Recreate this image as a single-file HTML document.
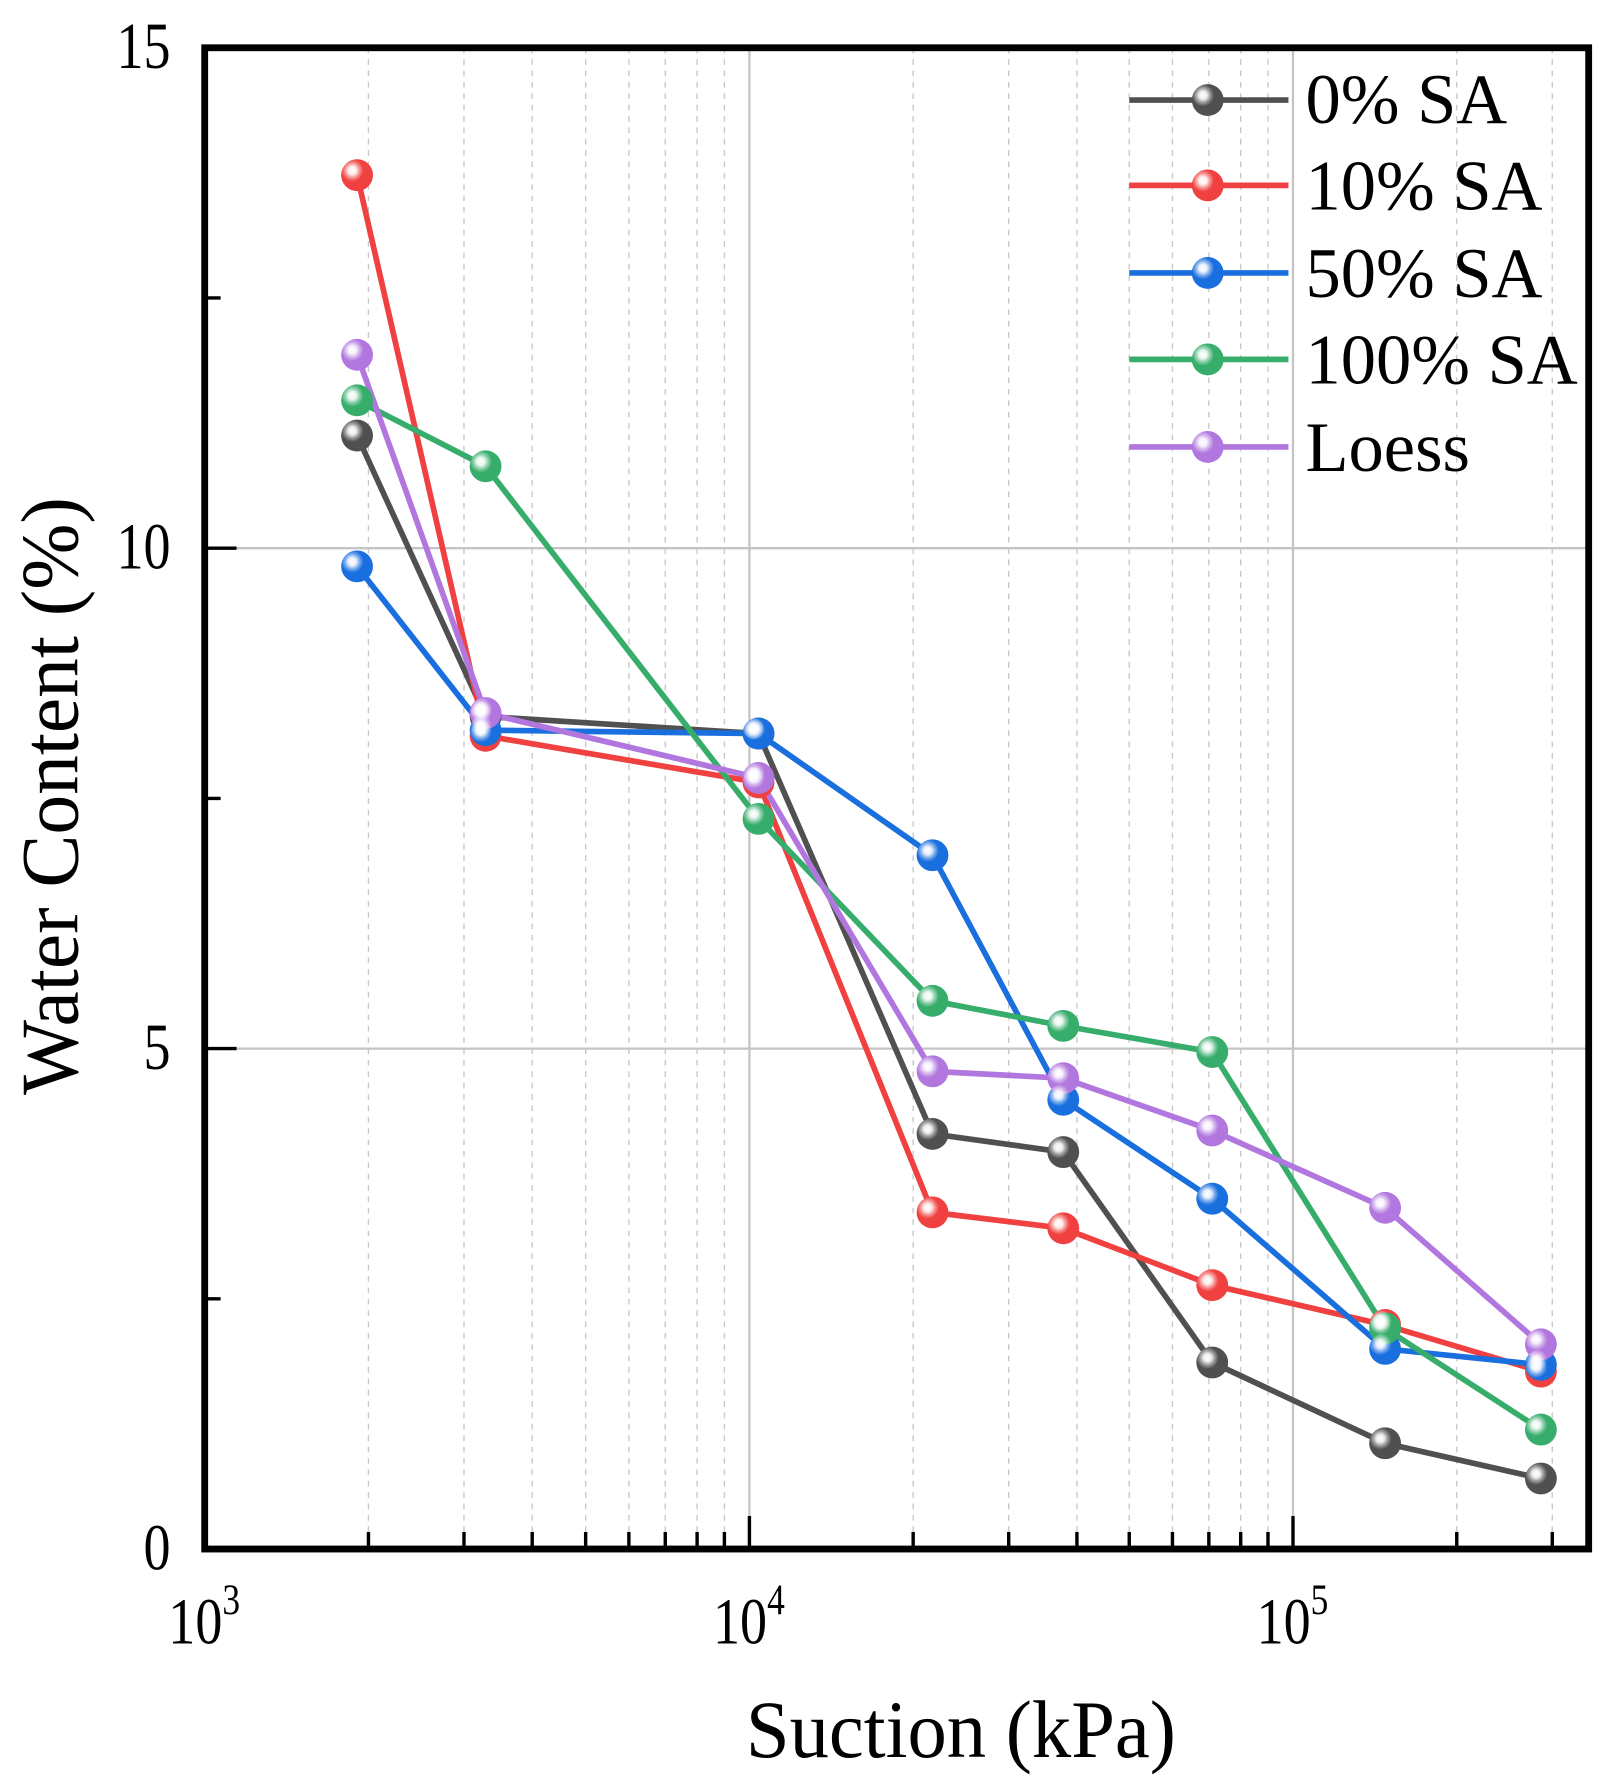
<!DOCTYPE html>
<html><head><meta charset="utf-8"><style>html,body{margin:0;padding:0;background:#fff}svg{display:block}</style></head>
<body>
<svg width="1608" height="1789" viewBox="0 0 1414 1573" preserveAspectRatio="none" xmlns="http://www.w3.org/2000/svg" font-family="Liberation Serif, serif">
<defs>
<radialGradient id="hl" cx="0.35" cy="0.35" r="0.5">
<stop offset="0" stop-color="#fff" stop-opacity="1"/>
<stop offset="0.25" stop-color="#fff" stop-opacity="0.9"/>
<stop offset="0.45" stop-color="#fff" stop-opacity="0.45"/>
<stop offset="0.7" stop-color="#fff" stop-opacity="0"/>
</radialGradient>
</defs>
<g stroke="#c8c8c8" stroke-width="1.2" stroke-dasharray="5,5">
<line x1="324" y1="42" x2="324" y2="1362"/><line x1="408" y1="42" x2="408" y2="1362"/><line x1="468" y1="42" x2="468" y2="1362"/><line x1="515" y1="42" x2="515" y2="1362"/><line x1="553" y1="42" x2="553" y2="1362"/><line x1="585" y1="42" x2="585" y2="1362"/><line x1="613" y1="42" x2="613" y2="1362"/><line x1="637" y1="42" x2="637" y2="1362"/>
<line x1="803" y1="42" x2="803" y2="1362"/><line x1="887" y1="42" x2="887" y2="1362"/><line x1="947" y1="42" x2="947" y2="1362"/><line x1="993" y1="42" x2="993" y2="1362"/><line x1="1031" y1="42" x2="1031" y2="1362"/><line x1="1063" y1="42" x2="1063" y2="1362"/><line x1="1091" y1="42" x2="1091" y2="1362"/><line x1="1115" y1="42" x2="1115" y2="1362"/>
<line x1="1281" y1="42" x2="1281" y2="1362"/><line x1="1365" y1="42" x2="1365" y2="1362"/>
</g>
<g stroke="#c4c4c4" stroke-width="2">
<line x1="659" y1="42" x2="659" y2="1362"/><line x1="1137" y1="42" x2="1137" y2="1362"/>
<line x1="180" y1="482" x2="1397" y2="482"/><line x1="180" y1="922" x2="1397" y2="922"/>
</g>
<g stroke="#000" stroke-width="3">
<line x1="324" y1="1362" x2="324" y2="1347"/><line x1="408" y1="1362" x2="408" y2="1347"/><line x1="468" y1="1362" x2="468" y2="1347"/><line x1="515" y1="1362" x2="515" y2="1347"/><line x1="553" y1="1362" x2="553" y2="1347"/><line x1="585" y1="1362" x2="585" y2="1347"/><line x1="613" y1="1362" x2="613" y2="1347"/><line x1="637" y1="1362" x2="637" y2="1347"/>
<line x1="803" y1="1362" x2="803" y2="1347"/><line x1="887" y1="1362" x2="887" y2="1347"/><line x1="947" y1="1362" x2="947" y2="1347"/><line x1="993" y1="1362" x2="993" y2="1347"/><line x1="1031" y1="1362" x2="1031" y2="1347"/><line x1="1063" y1="1362" x2="1063" y2="1347"/><line x1="1091" y1="1362" x2="1091" y2="1347"/><line x1="1115" y1="1362" x2="1115" y2="1347"/>
<line x1="1281" y1="1362" x2="1281" y2="1347"/><line x1="1365" y1="1362" x2="1365" y2="1347"/>
<line x1="659" y1="1362" x2="659" y2="1333"/><line x1="1137" y1="1362" x2="1137" y2="1333"/>
<line x1="180" y1="262" x2="194" y2="262"/><line x1="180" y1="702" x2="194" y2="702"/><line x1="180" y1="1142" x2="194" y2="1142"/>
<line x1="180" y1="482" x2="208" y2="482"/><line x1="180" y1="922" x2="208" y2="922"/>
</g>
<rect x="180" y="42" width="1217" height="1320" fill="none" stroke="#000" stroke-width="6"/>
<g fill="none" stroke-width="5" stroke-linejoin="round">
<polyline stroke="#505050" points="314,383 427,630 667,645 820,997 935,1013 1066,1198 1218,1269 1355,1300"/>
<polyline stroke="#f04040" points="314,154 427,647 667,688 820,1066 935,1080 1066,1130 1218,1165 1355,1206"/>
<polyline stroke="#1a6fdf" points="314,498 427,642 667,645 820,752 935,967 1066,1054 1218,1186 1355,1200"/>
<polyline stroke="#37ad6b" points="314,352 427,410 667,720 820,880 935,902 1066,925 1218,1168 1355,1257"/>
<polyline stroke="#b177de" points="314,312 427,627 667,684 820,942 935,948 1066,994 1218,1062 1355,1182"/>
</g>
<g>
<g fill="#505050"><circle cx="314" cy="383" r="14"/><circle cx="427" cy="630" r="14"/><circle cx="667" cy="645" r="14"/><circle cx="820" cy="997" r="14"/><circle cx="935" cy="1013" r="14"/><circle cx="1066" cy="1198" r="14"/><circle cx="1218" cy="1269" r="14"/><circle cx="1355" cy="1300" r="14"/></g>
<g fill="#f04040"><circle cx="314" cy="154" r="14"/><circle cx="427" cy="647" r="14"/><circle cx="667" cy="688" r="14"/><circle cx="820" cy="1066" r="14"/><circle cx="935" cy="1080" r="14"/><circle cx="1066" cy="1130" r="14"/><circle cx="1218" cy="1165" r="14"/><circle cx="1355" cy="1206" r="14"/></g>
<g fill="#1a6fdf"><circle cx="314" cy="498" r="14"/><circle cx="427" cy="642" r="14"/><circle cx="667" cy="645" r="14"/><circle cx="820" cy="752" r="14"/><circle cx="935" cy="967" r="14"/><circle cx="1066" cy="1054" r="14"/><circle cx="1218" cy="1186" r="14"/><circle cx="1355" cy="1200" r="14"/></g>
<g fill="#37ad6b"><circle cx="314" cy="352" r="14"/><circle cx="427" cy="410" r="14"/><circle cx="667" cy="720" r="14"/><circle cx="820" cy="880" r="14"/><circle cx="935" cy="902" r="14"/><circle cx="1066" cy="925" r="14"/><circle cx="1218" cy="1168" r="14"/><circle cx="1355" cy="1257" r="14"/></g>
<g fill="#b177de"><circle cx="314" cy="312" r="14"/><circle cx="427" cy="627" r="14"/><circle cx="667" cy="684" r="14"/><circle cx="820" cy="942" r="14"/><circle cx="935" cy="948" r="14"/><circle cx="1066" cy="994" r="14"/><circle cx="1218" cy="1062" r="14"/><circle cx="1355" cy="1182" r="14"/></g>
</g>
<g fill="url(#hl)">
<circle cx="314" cy="383" r="14"/><circle cx="427" cy="630" r="14"/><circle cx="667" cy="645" r="14"/><circle cx="820" cy="997" r="14"/><circle cx="935" cy="1013" r="14"/><circle cx="1066" cy="1198" r="14"/><circle cx="1218" cy="1269" r="14"/><circle cx="1355" cy="1300" r="14"/>
<circle cx="314" cy="154" r="14"/><circle cx="427" cy="647" r="14"/><circle cx="667" cy="688" r="14"/><circle cx="820" cy="1066" r="14"/><circle cx="935" cy="1080" r="14"/><circle cx="1066" cy="1130" r="14"/><circle cx="1218" cy="1165" r="14"/><circle cx="1355" cy="1206" r="14"/>
<circle cx="314" cy="498" r="14"/><circle cx="427" cy="642" r="14"/><circle cx="667" cy="645" r="14"/><circle cx="820" cy="752" r="14"/><circle cx="935" cy="967" r="14"/><circle cx="1066" cy="1054" r="14"/><circle cx="1218" cy="1186" r="14"/><circle cx="1355" cy="1200" r="14"/>
<circle cx="314" cy="352" r="14"/><circle cx="427" cy="410" r="14"/><circle cx="667" cy="720" r="14"/><circle cx="820" cy="880" r="14"/><circle cx="935" cy="902" r="14"/><circle cx="1066" cy="925" r="14"/><circle cx="1218" cy="1168" r="14"/><circle cx="1355" cy="1257" r="14"/>
<circle cx="314" cy="312" r="14"/><circle cx="427" cy="627" r="14"/><circle cx="667" cy="684" r="14"/><circle cx="820" cy="942" r="14"/><circle cx="935" cy="948" r="14"/><circle cx="1066" cy="994" r="14"/><circle cx="1218" cy="1062" r="14"/><circle cx="1355" cy="1182" r="14"/>
</g>
<g stroke-width="5">
<line x1="993" y1="88" x2="1133" y2="88" stroke="#505050"/>
<line x1="993" y1="163" x2="1133" y2="163" stroke="#f04040"/>
<line x1="993" y1="240" x2="1133" y2="240" stroke="#1a6fdf"/>
<line x1="993" y1="316" x2="1133" y2="316" stroke="#37ad6b"/>
<line x1="993" y1="393" x2="1133" y2="393" stroke="#b177de"/>
</g>
<circle cx="1062" cy="88" r="14" fill="#505050"/><circle cx="1062" cy="88" r="14" fill="url(#hl)"/>
<circle cx="1062" cy="163" r="14" fill="#f04040"/><circle cx="1062" cy="163" r="14" fill="url(#hl)"/>
<circle cx="1062" cy="240" r="14" fill="#1a6fdf"/><circle cx="1062" cy="240" r="14" fill="url(#hl)"/>
<circle cx="1062" cy="316" r="14" fill="#37ad6b"/><circle cx="1062" cy="316" r="14" fill="url(#hl)"/>
<circle cx="1062" cy="393" r="14" fill="#b177de"/><circle cx="1062" cy="393" r="14" fill="url(#hl)"/>
<g font-size="62" fill="#000">
<text x="1148" y="108">0% SA</text>
<text x="1148" y="184">10% SA</text>
<text x="1148" y="261">50% SA</text>
<text x="1148" y="337">100% SA</text>
<text x="1148" y="414">Loess</text>
</g>
<g font-size="58" fill="#000" text-anchor="end">
<text transform="translate(150,60) scale(0.82,1)">15</text>
<text transform="translate(150,500) scale(0.82,1)">10</text>
<text transform="translate(150,940) scale(0.82,1)">5</text>
<text transform="translate(150,1380) scale(0.82,1)">0</text>
</g>
<g font-size="58" fill="#000">
<text transform="translate(148,1445) scale(0.82,1)">10<tspan font-size="38" dy="-26">3</tspan></text>
<text transform="translate(627,1445) scale(0.82,1)">10<tspan font-size="38" dy="-26">4</tspan></text>
<text transform="translate(1105,1445) scale(0.82,1)">10<tspan font-size="38" dy="-26">5</tspan></text>
</g>
<text transform="translate(845,1545) scale(0.96,1)" font-size="72" text-anchor="middle">Suction (kPa)</text>
<text transform="translate(68,700) rotate(-90) scale(0.97,1)" font-size="72" text-anchor="middle">Water Content (%)</text>
</svg>
</body></html>
